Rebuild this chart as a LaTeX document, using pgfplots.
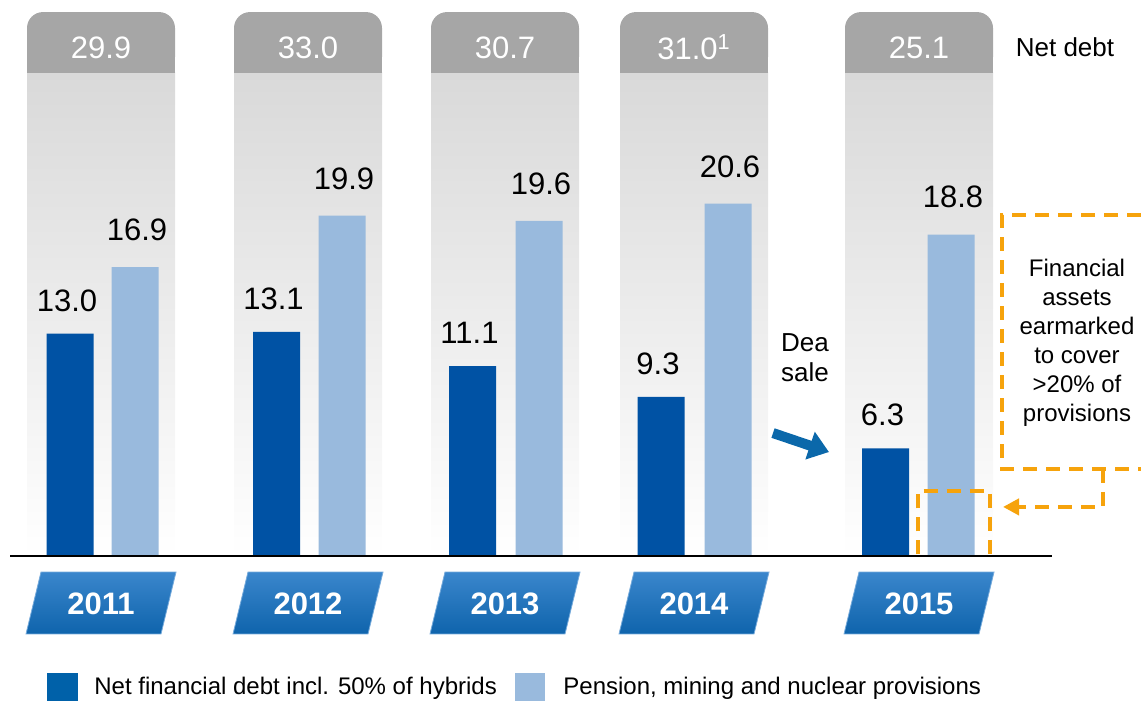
\documentclass[border=0pt]{standalone}
\usepackage{pgfplots}
\pgfplotsset{compat=1.18}
\usepackage{fontspec}
\setmainfont{Liberation Sans}
\usetikzlibrary{arrows.meta}

\definecolor{debt}{HTML}{0052A4}
\definecolor{prov}{HTML}{99BADD}
\definecolor{legdebt}{HTML}{0061A9}
\definecolor{hdr}{HTML}{A6A6A6}
\definecolor{coltop}{HTML}{D9D9D9}
\definecolor{yrtop}{HTML}{3A86CC}
\definecolor{yrbot}{HTML}{0F64AC}
\definecolor{ora}{HTML}{F6A30C}
\definecolor{arr}{HTML}{0B68AA}

% column / year box centres (x in pixel units, 1 unit = 0.5pt)
\newcommand{\column}[3]{% left, right, net debt
  \shade[top color=coltop, bottom color=white] (axis cs:#1,0) rectangle (axis cs:#2,28.25);
  \fill[hdr, rounded corners=8pt] (axis cs:#1,28.25) rectangle (axis cs:#2,31.81);
  \fill[hdr] (axis cs:#1,28.25) rectangle (axis cs:#2,30);
  \node[white, font=\fontsize{15.5}{18}\selectfont] at (axis cs:{(#1+#2)/2},29.74) {#3};
}
\newcommand{\yearbox}[2]{% centre, year
  \shade[top color=yrtop, bottom color=yrbot, draw=yrtop!70!white, line width=0.4pt]
    (axis cs:{#1-60},-0.94) -- (axis cs:{#1+75},-0.94) -- (axis cs:{#1+60},-4.56) -- (axis cs:{#1-75},-4.56) -- cycle;
  \node[white, font=\fontsize{15.5}{18}\selectfont\bfseries] at (axis cs:#1,-2.78) {#2};
}

\begin{document}
\begin{tikzpicture}
\begin{axis}[
    name=ax,
    x=0.5pt, y=8.55pt,
    xmin=0, xmax=1141,
    ymin=-8.48, ymax=32.515,
    hide axis,
    clip=false,
    ybar,
    bar width=47,
    /pgf/number format/fixed,
    /pgf/number format/fixed zerofill,
    /pgf/number format/precision=1,
    /pgf/number format/assume math mode=true,
]
% grey columns with the net debt headers
\column{27}{175}{29.9}
\column{234}{382}{33.0}
\column{431}{579}{30.7}
\column{620}{768}{31.0\textsuperscript{1}}
\column{845}{993}{25.1}
\node[font=\fontsize{13}{15}\selectfont] at (axis cs:1065,29.77) {Net debt};

% net financial debt incl. 50% of hybrids
\addplot[fill=debt, draw=none, bar shift=0pt,
    nodes near coords,
    nodes near coords style={font=\fontsize{15.5}{18}\selectfont, anchor=south, inner sep=0pt, yshift=11pt, xshift=-1.5pt}]
  coordinates {(70,13.0) (276.5,13.1) (472.5,11.1) (661,9.3) (885.5,6.3)};
% pension, mining and nuclear provisions
\addplot[fill=prov, draw=none, bar shift=0pt,
    nodes near coords,
    nodes near coords style={font=\fontsize{15.5}{18}\selectfont, anchor=south, inner sep=0pt, yshift=13pt, xshift=1pt}]
  coordinates {(135,16.9) (342,19.9) (539,19.6) (728,20.6) (951,18.8)};

\draw[line width=1pt] (axis cs:10,0) -- (axis cs:1052,0);

% year labels
\yearbox{101}{2011}
\yearbox{308}{2012}
\yearbox{505}{2013}
\yearbox{694}{2014}
\yearbox{919}{2015}

% Dea sale
\node[align=center, font=\fontsize{13}{15}\selectfont] at (axis cs:805,11.58) {Dea\\sale};
\draw[arr, line width=5pt, -{Triangle[length=10pt, width=14pt]}] (axis cs:773,7.19) -- (axis cs:829,6.08);

% earmarked assets
\draw[ora, line width=2pt, dash pattern=on 7pt off 4.5pt]
  (axis cs:1141,19.94) -- (axis cs:1002,19.94) -- (axis cs:1002,5.09) -- (axis cs:1141,5.09);
\draw[ora, line width=2pt, dash pattern=on 7pt off 4.5pt, -{Triangle[length=8pt, width=8pt]}]
  (axis cs:1103,5.09) -- (axis cs:1103,2.87) -- (axis cs:1003,2.87);
\draw[ora, line width=2pt, dash pattern=on 7pt off 4.5pt]
  (axis cs:918,0.1) -- (axis cs:918,3.80) -- (axis cs:990,3.80) -- (axis cs:990,0.1);
\node[align=center, font=\fontsize{12}{14.5}\selectfont] at (axis cs:1077,12.46)
  {Financial\\assets\\earmarked\\to cover\\>20\% of\\provisions};

% legend
\fill[legdebt] (axis cs:47,-6.84) rectangle (axis cs:78,-8.48);
\node[anchor=west, font=\fontsize{12}{14}\selectfont, inner sep=0pt] at (axis cs:94,-7.72) {Net financial debt incl. 50\% of hybrids};
\fill[prov] (axis cs:515,-6.84) rectangle (axis cs:545,-8.48);
\node[anchor=west, font=\fontsize{12}{14}\selectfont, inner sep=0pt] at (axis cs:563,-7.72) {Pension, mining and nuclear provisions};
\end{axis}
\pgfresetboundingbox
\useasboundingbox (ax.south west) rectangle (ax.north east);
\end{tikzpicture}
\end{document}
